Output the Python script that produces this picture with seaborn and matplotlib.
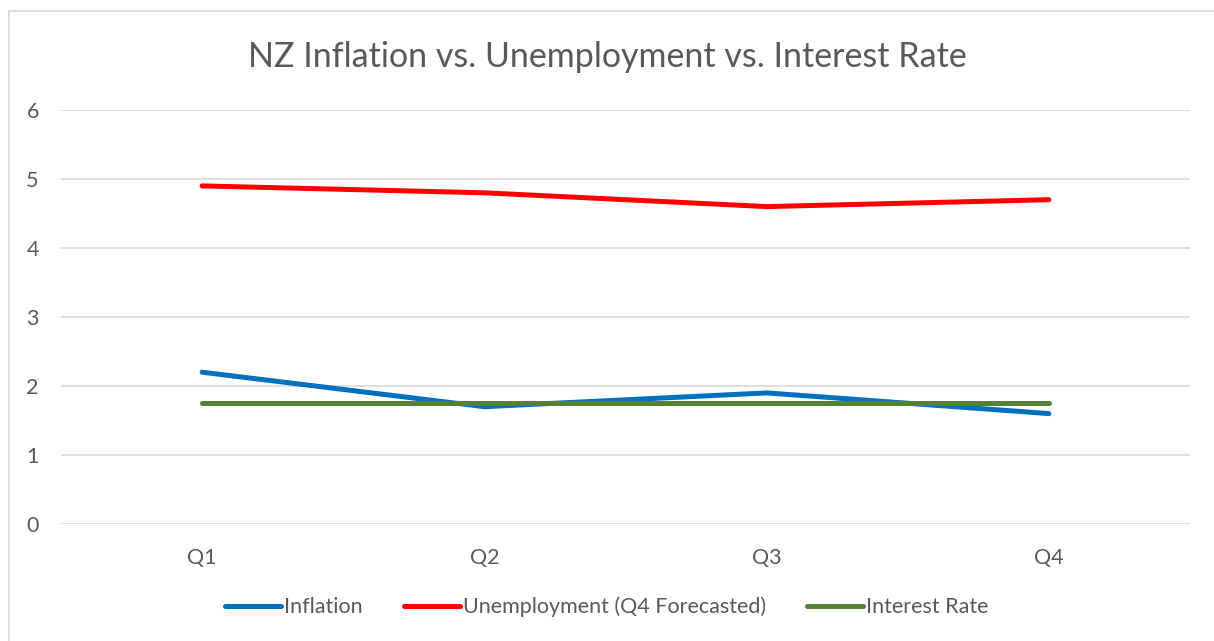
import pandas as pd
import seaborn as sns
import matplotlib.pyplot as plt
from matplotlib.lines import Line2D

quarters = ["Q1", "Q2", "Q3", "Q4"]
inflation = [2.2, 1.7, 1.9, 1.6]
unemployment = [4.9, 4.8, 4.6, 4.7]
interest_rate = [1.75, 1.75, 1.75, 1.75]

series_names = ["Inflation", "Unemployment (Q4 Forecasted)", "Interest Rate"]
colors = ["#0070C0", "#FF0000", "#548235"]

df = pd.DataFrame({
    "Quarter": quarters * 3,
    "Value": inflation + unemployment + interest_rate,
    "Series": [series_names[0]] * 4 + [series_names[1]] * 4 + [series_names[2]] * 4,
})

sns.set_theme(style="white")
plt.rcParams['font.family'] = ['Lato', 'DejaVu Sans']
text_color = "#595959"

fig = plt.figure(figsize=(12.14, 6.41), dpi=100)
ax = fig.add_axes([61 / 1214, 1 - 524 / 641, (1190 - 61) / 1214, (524 - 110) / 641])

# chart border: only top and left edges show in the reference
bx, by = 8.5 / 1214, 1 - 10.5 / 641
fig.lines.append(Line2D([bx, 1], [by, by], transform=fig.transFigure, color="#D9D9D9", lw=1.2))
fig.lines.append(Line2D([bx, bx], [0, by], transform=fig.transFigure, color="#D9D9D9", lw=1.2))

sns.lineplot(data=df, x="Quarter", y="Value", hue="Series",
             palette=dict(zip(series_names, colors)), linewidth=3.6,
             solid_capstyle="round", sort=False, ax=ax, legend=False)

ax.set_xlim(-0.5, 3.5)
ax.set_ylim(0, 6)
ax.set_yticks(range(0, 7))
ax.yaxis.grid(True, color="#D9D9D9", linewidth=1.2)
ax.set_axisbelow(True)
for s in ax.spines.values():
    s.set_visible(False)
ax.tick_params(axis="both", length=0, labelsize=15.5, colors=text_color)
ax.tick_params(axis="x", pad=17)
ax.tick_params(axis="y", pad=16)
ax.set_xlabel("")
ax.set_ylabel("")

fig.text(0.5, 1 - 57 / 641, "NZ Inflation vs. Unemployment vs. Interest Rate",
         ha="center", va="center", fontsize=24.5, color=text_color)

handles = [Line2D([], [], color=c, linewidth=3.6, solid_capstyle="round") for c in colors]
fig.legend(handles, series_names, loc="center", bbox_to_anchor=(0.5, 1 - 607 / 641),
           ncol=3, frameon=False, fontsize=15.5, labelcolor=text_color,
           handlelength=2.6, handletextpad=0.15, columnspacing=1.9)

fig.savefig("out.png", dpi=100, facecolor="white")
